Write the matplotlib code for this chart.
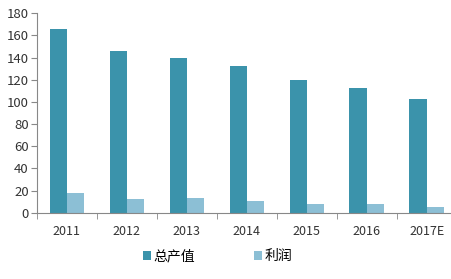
import numpy as np
import matplotlib.pyplot as plt

plt.rcParams['font.family'] = ['Noto Sans CJK SC', 'DejaVu Sans']

years = ["2011", "2012", "2013", "2014", "2015", "2016", "2017E"]
output_value = [165.5, 146, 140, 132, 119.5, 112.5, 102.5]
profit = [18.2, 12.8, 13.0, 10.8, 8.2, 8.0, 5.5]

dark = "#3b93ab"
light = "#8cbfd5"

fig = plt.figure(figsize=(4.51, 2.79), dpi=100)
ax = fig.add_axes([0.082, 0.237, 0.931, 0.716])

x = np.arange(len(years))
w = 0.29
ax.bar(x - w / 2, output_value, w, color=dark, label="总产值")
ax.bar(x + w / 2, profit, w, color=light, label="利润")

ax.set_xlim(-0.5, len(years) - 0.5)
ax.set_ylim(0, 180)
ax.set_yticks(range(0, 181, 20))

ax.set_xticks(x)
ax.set_xticklabels(years)
ax.set_xticks(np.arange(-0.5, len(years), 1), minor=True)
ax.tick_params(axis='x', which='major', length=0, pad=9, labelsize=9, colors='#333333')
ax.tick_params(axis='x', which='minor', length=4, color='#888888', direction='out')
ax.tick_params(axis='y', length=4, color='#888888', labelsize=9.5, colors='#333333', pad=2)

for s in ['top', 'right']:
    ax.spines[s].set_visible(False)
ax.spines['left'].set_color('#888888')
ax.spines['bottom'].set_color('#888888')

ax.legend(loc='upper center', bbox_to_anchor=(0.43, -0.12), ncol=2, frameon=False,
          fontsize=10, handlelength=0.6, handleheight=0.6, handletextpad=0.2,
          columnspacing=4.2)

plt.savefig("out.png", dpi=100)
